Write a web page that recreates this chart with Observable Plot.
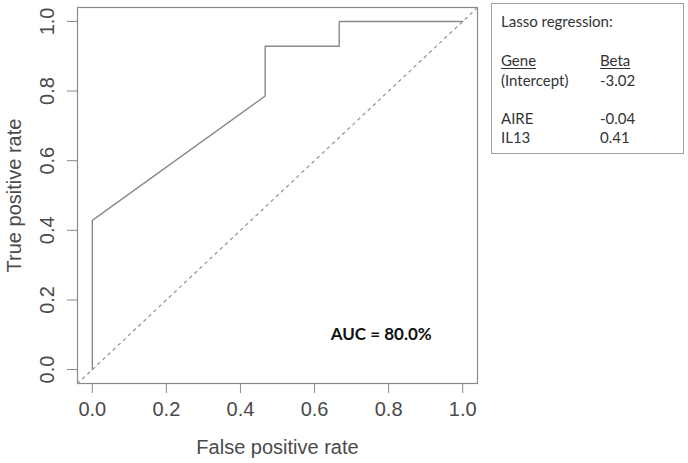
<!DOCTYPE html>
<html>
<head>
<meta charset="utf-8">
<script src="https://cdn.jsdelivr.net/npm/d3@7"></script>
<script src="https://cdn.jsdelivr.net/npm/@observablehq/plot@0.6"></script>
<style>
  html, body { margin: 0; padding: 0; background: #fff; }
  #wrap { position: relative; width: 688px; height: 463px; overflow: hidden; }
  #legend {
    position: absolute; left: 491px; top: 3px; width: 193px; height: 151px;
    border: 1px solid #a0a0a0; box-sizing: border-box;
    font-family: Lato, "Open Sans", sans-serif; font-size: 15px; line-height: 18px; color: #333;
  }
  #legend .row { position: absolute; left: 9px; white-space: nowrap; }
  #legend .c2 { position: absolute; left: 99px; }
  #legend u { text-decoration: underline; text-underline-offset: 2px; }
</style>
</head>
<body>
<div id="wrap"></div>
<script>
// ROC curve points (false positive rate, true positive rate)
const fpr = [0, 0, 0.4667, 0.4667, 0.6667, 0.6667, 1];
const tpr = [0, 0.4286, 0.7857, 0.9286, 0.9286, 1, 1];
const ticks = [0, 0.2, 0.4, 0.6, 0.8, 1.0];
const aucLabel = "AUC = 80.0%";
const aucPos = {x: 0.78, y: 0.1};
const diagonal = {intercept: 0, slope: 1};
const legendTitle = "Lasso regression:";
const legendHeader = ["Gene", "Beta"];
const legendGenes = ["(Intercept)", "AIRE", "IL13"];
const legendBeta = ["-3.02", "-0.04", "0.41"];

const domain = [-0.04, 1.04];
const roc = fpr.map((f, i) => ({x: f, y: tpr[i]}));
const diag = domain.map(x => ({x, y: diagonal.intercept + diagonal.slope * x}));

const axisColor = "#8a8a8a";
const textColor = "#4a4a4a";

const plot = Plot.plot({
  width: 688,
  height: 463,
  marginLeft: 77,
  marginRight: 211,
  marginTop: 7,
  marginBottom: 80,
  style: {fontFamily: "'Liberation Sans', Arial, sans-serif", fontSize: "20px", color: textColor, background: "#fff"},
  x: {domain, ticks},
  y: {domain, ticks},
  marks: [
    Plot.frame({stroke: axisColor, strokeWidth: 1.2}),
    Plot.axisX({ticks, tickSize: 10, tickPadding: 8, tickFormat: d3.format(".1f"), stroke: axisColor, fill: textColor,
      label: "False positive rate", labelAnchor: "center", labelArrow: "none", labelOffset: 70}),
    Plot.axisY({ticks, tickSize: 10, tickFormat: () => "", stroke: axisColor,
      label: null}),
    Plot.text(ticks, {y: d => d, text: d3.format(".1f"), frameAnchor: "left", dx: -30, rotate: -90,
      textAnchor: "middle", lineAnchor: "middle", fill: textColor, fontSize: 20}),
    Plot.text([ "True positive rate" ], {frameAnchor: "left", dx: -63, rotate: -90, textAnchor: "middle",
      lineAnchor: "middle", fill: textColor, fontSize: 20}),
    Plot.line(diag, {x: "x", y: "y", stroke: "#999", strokeWidth: 1.3, strokeDasharray: "2.5,4.5"}),
    Plot.line(roc, {x: "x", y: "y", stroke: "#8a8a8a", strokeWidth: 1.4}),
    Plot.text([aucPos], {x: "x", y: "y", text: () => aucLabel, fontFamily: "Lato, sans-serif", fontWeight: "bold",
      fontSize: 17, fill: "#111", textAnchor: "middle", lineAnchor: "middle"})
  ]
});
const wrap = document.getElementById("wrap");
wrap.appendChild(plot);

const leg = document.createElement("div");
leg.id = "legend";
const titleTop = 8, headerTop = 47, geneTops = [67, 105, 124];
let html = `<div class="row" style="top:${titleTop}px">${legendTitle}</div>`;
html += `<div class="row" style="top:${headerTop}px"><u>${legendHeader[0]}</u><span class="c2"><u>${legendHeader[1]}</u></span></div>`;
legendGenes.forEach((g, i) => {
  html += `<div class="row" style="top:${geneTops[i]}px">${g}<span class="c2">${legendBeta[i]}</span></div>`;
});
leg.innerHTML = html;
wrap.appendChild(leg);
</script>
</body>
</html>
